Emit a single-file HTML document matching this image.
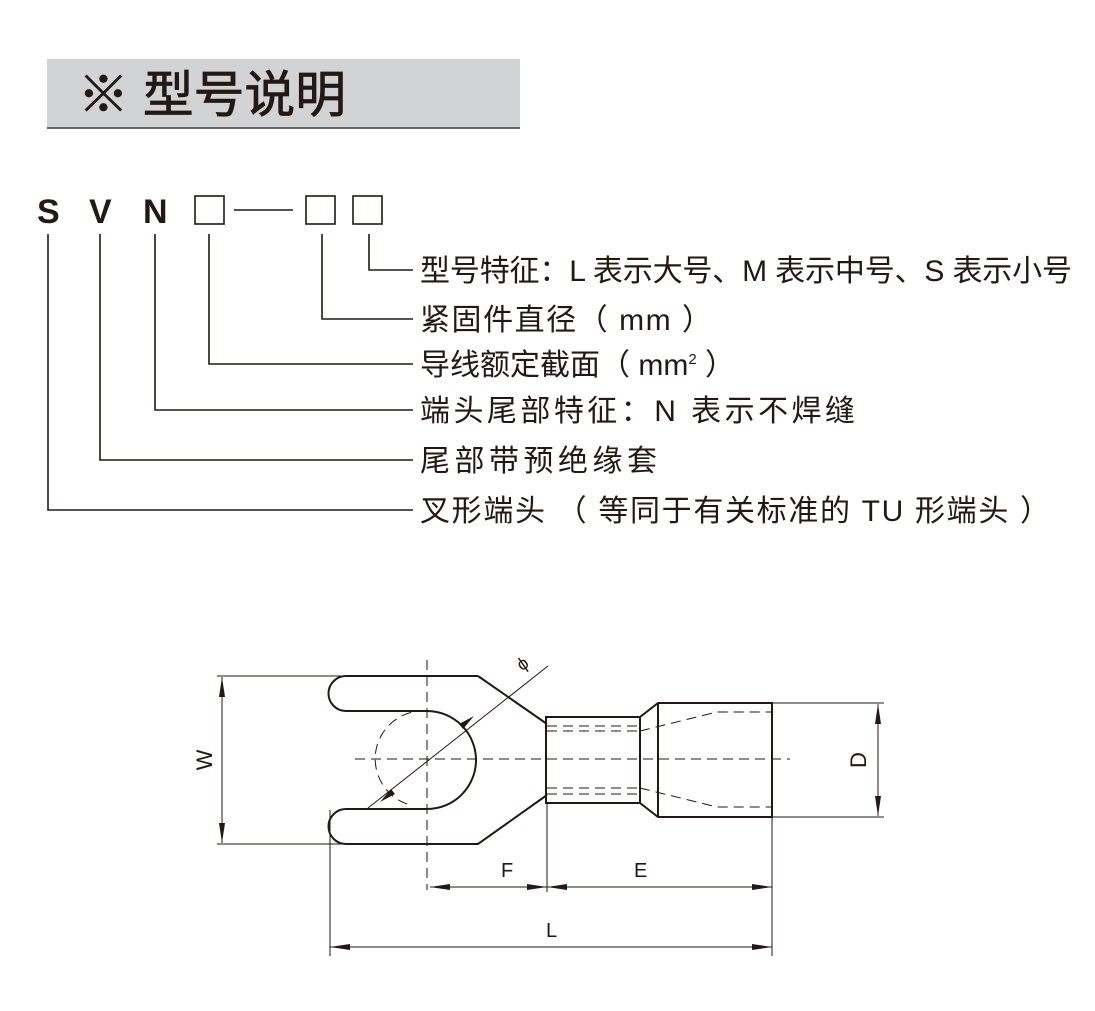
<!DOCTYPE html>
<html><head><meta charset="utf-8"><style>
html,body{margin:0;padding:0;background:#fff;}
svg{display:block;}
text{font-family:"Liberation Sans","Noto Sans CJK SC",sans-serif;fill:#231815;}
</style></head><body>
<svg width="1095" height="1011" viewBox="0 0 1095 1011" xmlns="http://www.w3.org/2000/svg">
<rect x="47" y="59" width="473" height="69" fill="#d1d3d4"/>
<line x1="47" y1="128" x2="520" y2="128" stroke="#666" stroke-width="2"/>
<text x="78" y="112" font-size="50" stroke="#231815" stroke-width="0.8" textLength="268" lengthAdjust="spacingAndGlyphs">※ 型号说明</text>

<g font-weight="bold" font-size="34">
<text x="37" y="223">S</text><text x="89" y="223">V</text><text x="143" y="223">N</text>
</g>
<g fill="none" stroke="#231815" stroke-width="1.6">
<rect x="195" y="196" width="29" height="28"/>
<line x1="234" y1="210" x2="293" y2="210"/>
<rect x="306" y="196" width="29" height="28"/>
<rect x="353" y="196" width="29" height="28"/>
<polyline points="369,234 369,270 413,270"/>
<polyline points="322,234 322,319 413,319"/>
<polyline points="209,234 209,364 413,364"/>
<polyline points="155,234 155,410 413,410"/>
<polyline points="100,234 100,460 413,460"/>
<polyline points="48,234 48,510 413,510"/>
</g>
<g font-size="30">
<text x="420" y="281" textLength="652" lengthAdjust="spacing">型号特征：L 表示大号、M 表示中号、S 表示小号</text>
<text x="420" y="330" textLength="292" lengthAdjust="spacing">紧固件直径（ mm ）</text>
<text x="420" y="375">导线额定截面（ mm<tspan font-size="15" dy="-11">2</tspan><tspan dy="11"> ）</tspan></text>
<text x="420" y="421" textLength="435" lengthAdjust="spacing">端头尾部特征：N 表示不焊缝</text>
<text x="420" y="471" textLength="237" lengthAdjust="spacing">尾部带预绝缘套</text>
<text x="420" y="521" textLength="630" lengthAdjust="spacing">叉形端头 （ 等同于有关标准的 TU 形端头 ）</text>
</g>

<g fill="none" stroke="#231815" stroke-width="2">
<path d="M478,676 L346,676 A17.5,17.5 0 0 0 346,711 L427,711 A48,48 0 0 1 427,809 L346,809 A17.5,17.5 0 0 0 346,844 L478,844 L547,795"/>
<line x1="478" y1="676" x2="547" y2="724"/>
<rect x="546" y="717" width="94" height="86"/>
<path d="M640,717 L658,703 L772,703 L772,817 L658,817 L640,803"/>
<line x1="658" y1="703" x2="658" y2="817"/>
</g>
<g fill="none" stroke="#231815" stroke-width="1" stroke-dasharray="10,6">
<line x1="355" y1="759" x2="790" y2="759"/>
<line x1="427" y1="660" x2="427" y2="890"/>
<path d="M427,711 A48,48 0 0 0 410,805" />
<line x1="547" y1="726" x2="640" y2="726"/><line x1="547" y1="731" x2="640" y2="731"/>
<line x1="547" y1="788" x2="640" y2="788"/><line x1="547" y1="794" x2="640" y2="794"/>
<polyline points="640,731 717,712 772,712"/>
<polyline points="640,788 717,807 772,807"/>
</g>
<g fill="none" stroke="#231815" stroke-width="1">
<line x1="217" y1="676" x2="346" y2="676"/>
<line x1="217" y1="844" x2="346" y2="844"/>
<line x1="222" y1="677" x2="222" y2="843"/>
<line x1="772" y1="703" x2="884" y2="703"/>
<line x1="772" y1="817" x2="884" y2="817"/>
<line x1="878" y1="704" x2="878" y2="816"/>
<line x1="368" y1="808" x2="548" y2="666"/>
<line x1="330" y1="810" x2="330" y2="956"/>
<line x1="547" y1="803" x2="547" y2="892"/>
<line x1="772" y1="817" x2="772" y2="956"/>
<line x1="430" y1="887" x2="772" y2="887"/>
<line x1="330" y1="947" x2="772" y2="947"/>
</g>
<g fill="#231815">
<polygon points="222,677 219,697 225,697"/><polygon points="222,843 219,823 225,823"/>
<polygon points="878,704 875,724 881,724"/><polygon points="878,816 875,796 881,796"/>
<polygon points="474,716 459,724 463,729"/><polygon points="380,802 395,794 391,789"/>
<polygon points="430,887 450,884 450,890"/><polygon points="547,887 527,884 527,890"/>
<polygon points="547,887 567,884 567,890"/><polygon points="772,887 752,884 752,890"/>
<polygon points="330,947 350,944 350,950"/><polygon points="772,947 752,944 752,950"/>
</g>
<g font-size="20">
<text x="501" y="877">F</text><text x="634" y="877">E</text><text x="546" y="937">L</text>
<text transform="translate(212,760) rotate(-90)" text-anchor="middle" font-size="22">W</text>
<text transform="translate(866,760) rotate(-90)" text-anchor="middle" font-size="22">D</text>
<text x="517" y="668" font-size="18" transform="rotate(-35 525 662)">ϕ</text>
</g>
</svg>
</body></html>
